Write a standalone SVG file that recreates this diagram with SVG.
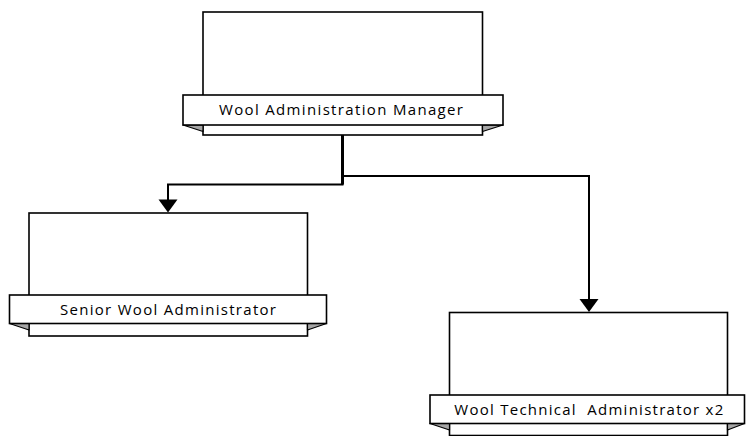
<svg xmlns="http://www.w3.org/2000/svg" width="750" height="436" viewBox="0 0 750 436">
<style>
.box{fill:#fff;stroke:#000;stroke-width:1.6}
.fold{fill:#a6a6a6;stroke:#000;stroke-width:1.2;stroke-linejoin:round}
.lbl{font-family:"Open Sans","Noto Sans",sans-serif;font-size:15px;fill:#000;text-anchor:middle}
.conn{fill:none;stroke:#000;stroke-width:2}
.head{fill:#000;stroke:none}
</style>
<rect width="750" height="436" fill="#fff"/>
<g id="connectors">
<path class="conn" d="M342.5,135 V184.5 H168 V201"/>
<path class="conn" d="M342.5,135 V176 H589 V301"/>
<line x1="342.5" y1="135" x2="342.5" y2="184.5" stroke="#000" stroke-width="3"/>
<polygon class="head" points="158.5,199.5 177.5,199.5 168,212.5"/>
<polygon class="head" points="579.5,299 598.5,299 589,312"/>
</g>
<g id="node-manager">
<rect class="box" x="203" y="12" width="279.5" height="123"/>
<polygon class="fold" points="183,125 203,125 203,131.5"/>
<polygon class="fold" points="503,125 482.5,125 482.5,131.5"/>
<rect class="box" x="183" y="95" width="320" height="30"/>
<text class="lbl" x="341" y="115" textLength="244" lengthAdjust="spacing">Wool Administration Manager</text>
</g>
<g id="node-senior">
<rect class="box" x="29" y="213" width="278.5" height="123"/>
<polygon class="fold" points="9.5,323.5 29,323.5 29,330"/>
<polygon class="fold" points="326.5,323.5 307.5,323.5 307.5,330"/>
<rect class="box" x="9.5" y="295" width="317" height="28.5"/>
<text class="lbl" x="168" y="314.5" textLength="216" lengthAdjust="spacing">Senior Wool Administrator</text>
</g>
<g id="node-technical">
<rect class="box" x="449.5" y="312.5" width="278" height="123"/>
<polygon class="fold" points="430,423.5 449.5,423.5 449.5,430"/>
<polygon class="fold" points="744.5,423.5 727.5,423.5 727.5,430"/>
<rect class="box" x="430" y="395" width="314.5" height="28.5"/>
<text class="lbl" x="588.8" y="414.5" textLength="269" lengthAdjust="spacing" xml:space="preserve">Wool Technical  Administrator x2</text>
</g>
</svg>
